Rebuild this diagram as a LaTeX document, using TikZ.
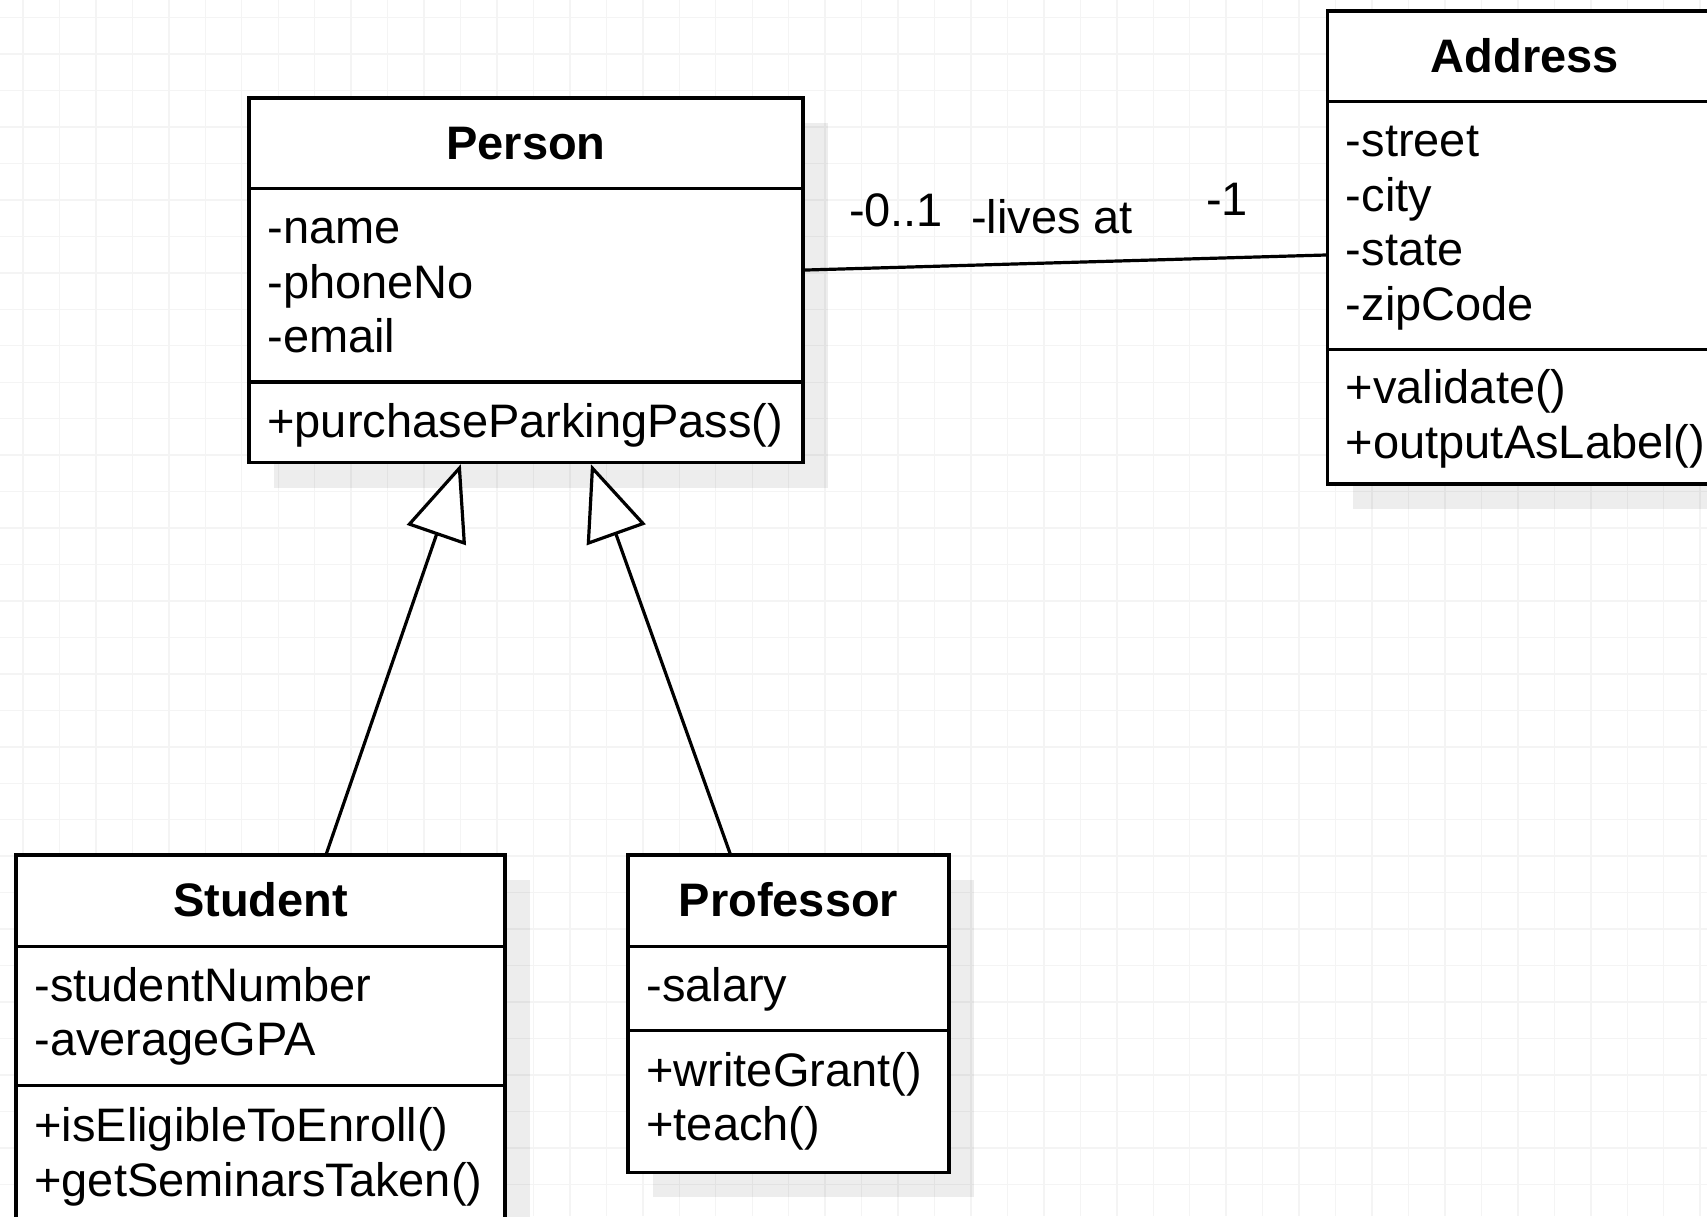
\documentclass[tikz,border=0pt]{standalone}
\usepackage{fontspec}
\setmainfont{Liberation Sans}
\usetikzlibrary{arrows.meta,shadows}

\tikzset{
  classbox/.style={draw=black, line width=1.7pt, fill=white, inner sep=0pt,
    drop shadow={shadow xshift=12.5pt, shadow yshift=-12.5pt, fill=black, opacity=0.07}},
  sepline/.style={draw=black, line width=1.7pt},
  umltext/.style={inner sep=0pt, outer sep=0pt, font=\fontsize{23.5pt}{27pt}\selectfont},
  title/.style={umltext, anchor=base, font=\fontsize{23.5pt}{27pt}\selectfont\bfseries},
  member/.style={umltext, anchor=base west},
  assoc/.style={draw=black, line width=1.6pt},
  inherit/.style={draw=black, line width=1.6pt,
    -{Triangle[open, fill=white, length=37.5pt, width=31pt]}},
  gridline/.style={draw={rgb,255:red,244;green,244;blue,244}, line width=0.7pt},
}

\begin{document}
\begin{tikzpicture}[x=0.5pt, y=-0.5pt]
  \useasboundingbox (0,0) rectangle (1707,1216);
  \clip (0,0) rectangle (1707,1216);
  \fill[white] (0,0) rectangle (1707,1216);

  % background grid
  \foreach \gx in {0,...,46} \draw[gridline] ({23+36.46*\gx},0) -- ({23+36.46*\gx},1216);
  \foreach \gy in {0,...,33} \draw[gridline] (0,{17.6+36.46*\gy}) -- (1707,{17.6+36.46*\gy});

  % class frames
  \node[classbox, minimum width=277pt, minimum height=182.25pt] (person) at (526,280.25) {};
  \node[classbox, minimum width=197.5pt, minimum height=236.5pt] (address) at (1525,247.5) {};
  \node[classbox, minimum width=244.5pt, minimum height=186.15pt] (student) at (260.5,1041.15) {};
  \node[classbox, minimum width=160.5pt, minimum height=158.65pt] (professor) at (788.5,1013.65) {};

  % compartment separators
  \draw[sepline] (person.west |- {(0,188.5)}) -- (person.east |- {(0,188.5)});
  \draw[sepline] (person.west |- {(0,382)}) -- (person.east |- {(0,382)});
  \draw[sepline] (address.west |- {(0,101.7)}) -- (address.east |- {(0,101.7)});
  \draw[sepline] (address.west |- {(0,349.3)}) -- (address.east |- {(0,349.3)});
  \draw[sepline] (student.west |- {(0,946.7)}) -- (student.east |- {(0,946.7)});
  \draw[sepline] (student.west |- {(0,1085.7)}) -- (student.east |- {(0,1085.7)});
  \draw[sepline] (professor.west |- {(0,946.7)}) -- (professor.east |- {(0,946.7)});
  \draw[sepline] (professor.west |- {(0,1030.7)}) -- (professor.east |- {(0,1030.7)});

  % class names
  \node[title] (personname) at (526,159.5) {Person};
  \node[title] (addressname) at (1525,72.5) {Address};
  \node[title] (studentname) at (260.5,916.5) {Student};
  \node[title] (professorname) at (788.5,916.5) {Professor};

  % Person members
  \foreach \t [count=\i] in {-name,-phoneNo,-email}
    \node[member, name=pattr\i] at (267.4,{243.5+54.7*(\i-1)}) {\t};
  \node[member] (pop1) at (267.4,437.5) {+purchaseParkingPass()};

  % Address members
  \foreach \t [count=\i] in {-street,-city,-state,-zipCode}
    \node[member, name=aattr\i] at (1345.9,{156.7+54.5*(\i-1)}) {\t};
  \node[member] (aop1) at (1345.9,403.5) {+validate()};
  \node[member] (aop2) at (1345.9,458) {+outputAsLabel()};

  % Student members
  \node[member] (sattr1) at (34.4,1001) {-studentNumber};
  \node[member] (sattr2) at (34.4,1055.5) {-averageGPA};
  \node[member] (sop1) at (34.4,1141.5) {+isEligibleToEnroll()};
  \node[member] (sop2) at (34.4,1196) {+getSeminarsTaken()};

  % Professor members
  \node[member] (prattr1) at (646.4,1001) {-salary};
  \node[member] (prop1) at (646.4,1086) {+writeGrant()};
  \node[member] (prop2) at (646.4,1140.5) {+teach()};

  % association Person -- Address
  \draw[assoc] ([yshift=5.1pt]person.east) -- ([yshift=-3.75pt]address.west);
  \node[member] (multperson) at (849,226) {-0..1};
  \node[member] (rolename) at (971,233) {-lives at};
  \node[member] (multaddress) at (1206,215) {-1};

  % generalisations
  \draw[inherit] ([xshift=33pt]student.north) -- ([xshift=-32.6pt]person.south);
  \draw[inherit] ([xshift=-29.25pt]professor.north) -- ([xshift=32.5pt]person.south);
\end{tikzpicture}
\end{document}
